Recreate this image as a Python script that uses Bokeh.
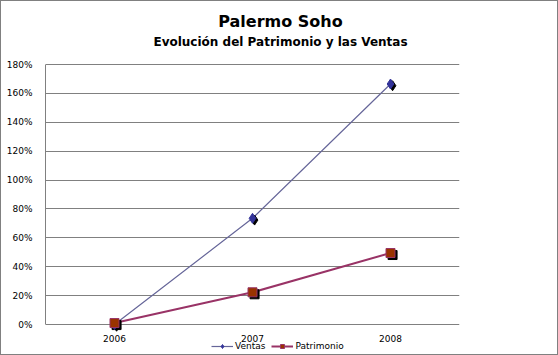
from bokeh.plotting import figure
from bokeh.models import (ColumnDataSource, FactorRange, Range1d, Legend, LegendItem,
                          NumeralTickFormatter, SingleIntervalTicker)
from bokeh.core.properties import value
from bokeh.transform import dodge
from bokeh.embed import file_html
from bokeh.resources import INLINE

years = ["2006", "2007", "2008"]
ventas = [0.0, 0.735, 1.665]
patrimonio = [0.01, 0.223, 0.495]
title = "Palermo Soho"
subtitle = "Evolución del Patrimonio y las Ventas"

W, H = 558, 355
FL, FR = 44, 458          # plot area left/right (px)
Y0, Y180 = 323, 63        # pixel rows of 0% and 180%
YMAX = 1.8
per_px = YMAX / (Y0 - Y180)
y_lo = -(H - Y0) * per_px
y_hi = YMAX + Y180 * per_px

src = ColumnDataSource(dict(x=years, v=ventas, p=patrimonio, base=[0.0] * len(years)))

p = figure(width=W, height=H, output_backend="svg", toolbar_location=None,
           x_range=FactorRange(factors=years, range_padding=0), y_range=Range1d(y_lo, y_hi),
           min_border_left=FL, min_border_right=W - FR, min_border_top=0, min_border_bottom=0)
p.styles = {"border": "1px solid #808080", "box-sizing": "border-box"}
p.outline_line_color = None
p.background_fill_color = "white"
p.border_fill_color = "white"

font = "DejaVu Sans"
p.xaxis.visible = False
p.xgrid.grid_line_color = None
p.ygrid.grid_line_color = "#808080"
p.ygrid.grid_line_width = 1
p.yaxis.ticker = SingleIntervalTicker(interval=0.2)
p.yaxis.bounds = (0, YMAX)
p.yaxis.formatter = NumeralTickFormatter(format="0%")
p.yaxis.major_tick_line_color = None
p.yaxis.minor_tick_line_color = None
p.yaxis.axis_line_color = "#808080"
p.yaxis.major_label_text_font = font
p.yaxis.major_label_text_font_size = "9px"
p.yaxis.major_label_text_color = "black"
p.yaxis.major_label_standoff = 7
p.ygrid.bounds = (0, YMAX)

# category labels under the baseline
p.text("x", "base", text="x", source=src, y_offset=14, text_align="center",
       text_baseline="middle", text_font=value(font), text_font_size="9px", text_color="black")

sx = dodge("x", 0.015, range=p.x_range)
lv = p.line("x", "v", source=src, line_color="#666699", line_width=1.2)
lp = p.line("x", "p", source=src, line_color="#993366", line_width=2)
p.scatter(sx, dodge("v", -0.012), source=src, marker="diamond", size=10, fill_color="black", line_color="black")
p.scatter(sx, dodge("p", -0.014), source=src, marker="square", size=9, fill_color="black", line_color="black")
mv = p.scatter("x", "v", source=src, marker="diamond", size=10, fill_color="#333399", line_color="#333399")
mp = p.scatter("x", "p", source=src, marker="square", size=9, fill_color="#993300", line_color="#993366")

# titles
tsrc = ColumnDataSource(dict(x=["2007", "2007"], y=[y_hi, y_hi], t=[title, subtitle],
                             off=[20, 40], fs=["16px", "12px"]))
p.text("x", "y", text="t", source=tsrc, x_offset=W / 2 - (FL + FR) / 2, y_offset="off",
       text_align="center", text_baseline="middle", text_font=value(font),
       text_font_size="fs", text_font_style="bold", text_color="black")

legend = Legend(items=[LegendItem(label="Ventas", renderers=[lv, mv]),
                       LegendItem(label="Patrimonio", renderers=[lp, mp])],
                orientation="horizontal", location=(166, 5),
                background_fill_alpha=0, border_line_color=None,
                label_text_font=font, label_text_font_size="9px", label_text_color="black",
                glyph_width=22, glyph_height=10, spacing=6, padding=2, margin=0,
                label_standoff=2)
p.add_layout(legend, "center")

open("out.html", "w").write(file_html(p, INLINE))
